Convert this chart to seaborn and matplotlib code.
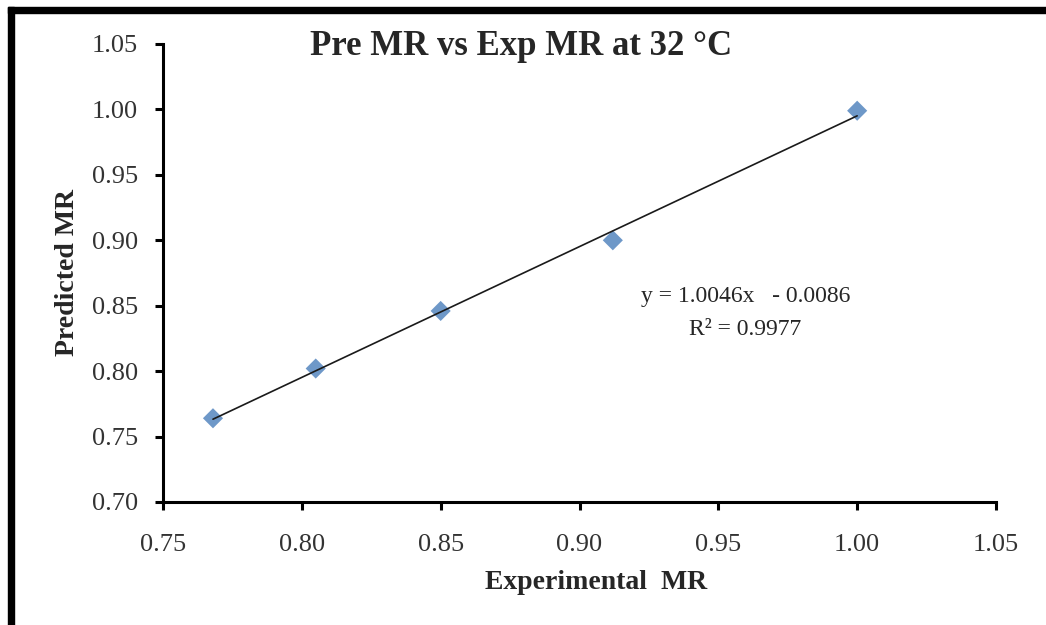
import matplotlib
matplotlib.use("Agg")
import matplotlib.pyplot as plt
import seaborn as sns
import pandas as pd
from matplotlib.patches import Rectangle

# Data
experimental_mr = [0.768, 0.805, 0.850, 0.912, 1.000]
predicted_mr = [0.764, 0.802, 0.846, 0.900, 0.999]
x_ticks = [0.75, 0.80, 0.85, 0.90, 0.95, 1.00, 1.05]
y_ticks = [0.70, 0.75, 0.80, 0.85, 0.90, 0.95, 1.00, 1.05]
title = "Pre MR vs Exp MR at 32 °C"
x_label = "Experimental  MR"
y_label = "Predicted MR"
eq_text = "y = 1.0046x   - 0.0086"
r2_text = "R² = 0.9977"

sns.set_style("white")
plt.rcParams["font.family"] = ["Liberation Serif", "DejaVu Serif"]

df = pd.DataFrame({"exp": experimental_mr, "pre": predicted_mr})

fig = plt.figure(figsize=(10.46, 6.25), dpi=100)
ax = fig.add_axes([163 / 1046, 1 - 502 / 625, (996 - 163) / 1046, (502 - 44) / 625])

sns.regplot(data=df, x="exp", y="pre", ax=ax, ci=None, truncate=True,
            marker="D",
            scatter_kws=dict(s=105, color="#4A7EBB", edgecolors="none", zorder=2),
            line_kws=dict(color="#1a1a1a", lw=1.2, zorder=3))

ax.set_xlim(0.75, 1.05)
ax.set_ylim(0.70, 1.05)
ax.set_xticks(x_ticks)
ax.set_yticks(y_ticks)
ax.set_xticklabels([f"{v:.2f}" for v in x_ticks])
ax.set_yticklabels([f"{v:.2f}" for v in y_ticks])

for s in ["top", "right"]:
    ax.spines[s].set_visible(False)
for s in ["left", "bottom"]:
    ax.spines[s].set_color("black")
    ax.spines[s].set_linewidth(2.2)

ax.tick_params(axis="both", direction="out", length=6, width=2.2, color="black",
               labelsize=19, labelcolor="#333333", pad=12, left=True, bottom=True)
ax.tick_params(axis="x", pad=17)

ax.set_xlabel(x_label, fontsize=20, fontweight="bold")
ax.xaxis.set_label_coords(0.52, -0.148)
ax.set_ylabel(y_label, fontsize=20, fontweight="bold")
ax.yaxis.set_label_coords(-0.10, 0.5)

ax.text(0.43, 0.995, title, transform=ax.transAxes, ha="center", va="center",
        fontsize=25, fontweight="bold")

ax.text(0.9597, 0.857, eq_text, ha="center", va="center", fontsize=17)
ax.text(0.9597, 0.8315, r2_text, ha="center", va="center", fontsize=17)

# figure border (top and left black bars)
fig.patches.append(Rectangle((8 / 1046, 1 - 13 / 625), 1, 6 / 625,
                             transform=fig.transFigure, color="black", zorder=10))
fig.patches.append(Rectangle((8 / 1046, 0), 6 / 1046, 1 - 7 / 625,
                             transform=fig.transFigure, color="black", zorder=10))

fig.savefig("out.png", dpi=100)
